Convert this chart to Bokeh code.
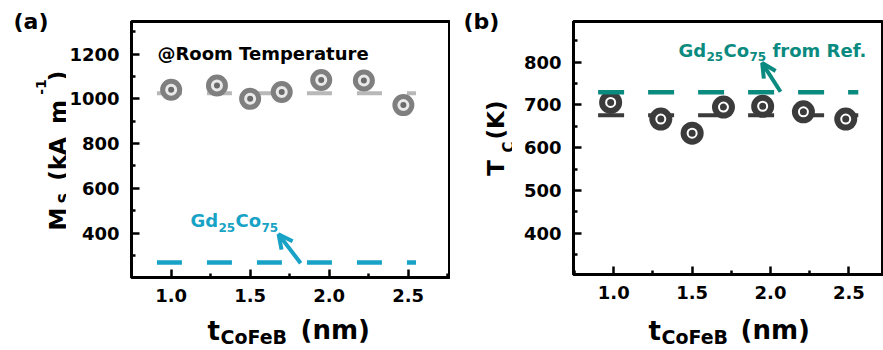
from bokeh.plotting import figure
from bokeh.layouts import row, column
from bokeh.models import Label, Arrow, OpenHead, FixedTicker, PrintfTickFormatter, Range1d
from bokeh.embed import file_html
from bokeh.resources import INLINE

# ---------------- data ----------------
# panel (a): saturation magnetisation vs CoFeB thickness
t_a = [1.00, 1.29, 1.50, 1.70, 1.95, 2.22, 2.47]
Ms = [1041, 1060, 1000, 1031, 1084, 1082, 972]
Ms_avg = 1025
Ms_GdCo = 268
line_x_a = [0.91, 2.55]

# panel (b): Curie temperature vs CoFeB thickness
t_b = [0.98, 1.30, 1.50, 1.70, 1.95, 2.21, 2.48]
Tc = [706, 667, 634, 695, 697, 684, 667]
Tc_avg = 676
Tc_GdCo = 730
line_x_b = [0.90, 2.56]

# ticks
x_ticks = [1.0, 1.5, 2.0, 2.5]
x_minor = [0.75, 1.25, 1.75, 2.25, 2.75]
ms_ticks = [400, 600, 800, 1000, 1200]
ms_minor = [300, 500, 700, 900, 1100, 1300]
tc_ticks = [400, 500, 600, 700, 800]
tc_minor = [350, 450, 550, 650, 750, 850]

FONT = "DejaVu Sans"
CYAN = "#18a3c6"
TEAL = "#0b8a80"
LGRAY = "#b8b8b8"
RING = "#7f7f7f"
DARK = "#3b3b3b"
ROT = 1.5707963
H_TOP = 312          # height of the row holding the two panels
W_A, W_B = 66, 62    # widths of the left-hand title strips
SX_FRAME_H = 50      # a short strip's frame is laid out at least this tall


def no_align(p):
    if "frame_align" in p.properties():
        p.frame_align = False


def style(p, xt, xm, yt, ym):
    no_align(p)
    p.xgrid.visible = False
    p.ygrid.visible = False
    p.outline_line_color = "black"
    p.outline_line_width = 3
    p.background_fill_color = "white"
    p.border_fill_color = "white"
    for ax in (p.xaxis[0], p.yaxis[0]):
        ax.axis_line_width = 3
        ax.axis_line_color = "black"
        ax.major_tick_line_width = 2.5
        ax.minor_tick_line_width = 2.5
        ax.major_tick_in = 8
        ax.major_tick_out = 0
        ax.minor_tick_in = 4
        ax.minor_tick_out = 0
        ax.major_label_text_font = FONT
        ax.major_label_text_font_style = "bold"
        ax.major_label_text_font_size = "18px"
        ax.major_label_text_color = "black"
    p.xaxis[0].ticker = FixedTicker(ticks=xt, minor_ticks=xm)
    p.yaxis[0].ticker = FixedTicker(ticks=yt, minor_ticks=ym)
    p.xaxis[0].formatter = PrintfTickFormatter(format="%.1f")
    p.yaxis[0].formatter = PrintfTickFormatter(format="%d")
    p.xaxis[0].major_label_standoff = 11
    p.yaxis[0].major_label_standoff = 12


def make_label(x, y, text, size, color, align, baseline, angle):
    return Label(x=x, y=y, text=text, text_font=FONT, text_font_style="bold",
                 text_font_size=f"{size}px", text_color=color,
                 text_align=align, text_baseline=baseline, angle=angle)


class Box:
    """Converts page pixel positions into the data space of a plot frame."""

    def __init__(self, p, xr, yr, L, R, T, B):
        self.p, self.xr, self.yr = p, xr, yr
        self.L, self.R, self.T, self.B = L, R, T, B

    def lab(self, X, Y, text, size, color="black", align="left",
            baseline="alphabetic", angle=0.0):
        x = self.xr[0] + (X - self.L) * (self.xr[1] - self.xr[0]) / (self.R - self.L)
        y = self.yr[0] + (self.B - Y) * (self.yr[1] - self.yr[0]) / (self.B - self.T)
        self.p.add_layout(make_label(x, y, text, size, color, align, baseline, angle))


def strip(w, h, ox, oy, frame_h=None):
    """A blank figure whose frame is its whole area, in page-pixel units."""
    fh = frame_h if frame_h is not None else h
    s = figure(width=w, height=h, x_range=Range1d(ox, ox + w),
               y_range=Range1d(oy + fh, oy), output_backend="svg",
               toolbar_location=None, x_axis_location=None,
               y_axis_location=None, min_border=0)
    no_align(s)
    s.min_border_left = s.min_border_right = 0
    s.min_border_top = s.min_border_bottom = 0
    s.xgrid.visible = False
    s.ygrid.visible = False
    s.outline_line_color = None
    s.background_fill_color = "white"
    s.border_fill_color = "white"
    return Box(s, (ox, ox + w), (oy + fh, oy), ox, ox + w, oy, oy + fh)


# ---------------- panel (a) ----------------
XR_A, YR_A = (0.749, 2.762), (201, 1346)
LA, RA, TA, BA = 131, 449, 21, 277          # frame edges on the page
pa = figure(width=450 - W_A, height=H_TOP, x_range=Range1d(*XR_A),
            y_range=Range1d(*YR_A), output_backend="svg",
            toolbar_location=None, min_border_left=LA - W_A,
            min_border_right=450 - RA, min_border_top=TA,
            min_border_bottom=H_TOP - BA)
style(pa, x_ticks, x_minor, ms_ticks, ms_minor)

pa.line(line_x_a, [Ms_avg, Ms_avg], line_width=4, line_color=LGRAY,
        line_dash="25 25")
pa.line(line_x_a, [Ms_GdCo, Ms_GdCo], line_width=4.5, line_color=CYAN,
        line_dash="25 25")
pa.scatter(t_a, Ms, size=17, fill_color="#e9e9e9", line_color=RING,
           line_width=5)
pa.scatter(t_a, Ms, size=6, fill_color="#6a6a6a", line_color=None)
pa.add_layout(Arrow(end=OpenHead(size=14, line_width=4, line_color=CYAN),
                    x_start=1.82, y_start=265, x_end=1.68, y_end=394,
                    line_width=4, line_color=CYAN))

A = Box(pa, XR_A, YR_A, LA, RA, TA, BA)
A.lab(157, 53, "@Room Temperature", 18)
A.lab(190, 220, "Gd", 18, CYAN)
A.lab(218, 227, "25", 12, CYAN)
A.lab(235, 220, "Co", 18, CYAN)
A.lab(261, 227, "75", 12, CYAN)

# left strip of (a): panel tag and y-axis title
SA = strip(W_A, H_TOP, 0, 0)
SA.lab(13, 21, "(a)", 22)
SA.lab(57, 218.5, "M", 23, align="center", angle=ROT)
SA.lab(64, 197.5, "S", 15, align="center", angle=ROT)
SA.lab(57, 158.5, "(kA", 23, align="center", angle=ROT)
SA.lab(57, 111.5, "m", 23, align="center", angle=ROT)
SA.lab(40, 86.5, "-1", 14, align="center", angle=ROT)
SA.lab(57, 75.5, ")", 23, align="center", angle=ROT)

# ---------------- panel (b) ----------------
XR_B, YR_B = (0.743, 2.721), (304, 895)
LB, RB, TB, BB = 573, 883, 21, 274
OXB = 450 + W_B
pb = figure(width=883 - OXB, height=H_TOP, x_range=Range1d(*XR_B),
            y_range=Range1d(*YR_B), output_backend="svg",
            toolbar_location=None, min_border_left=LB - OXB,
            min_border_right=0, min_border_top=TB,
            min_border_bottom=H_TOP - BB)
style(pb, x_ticks, x_minor, tc_ticks, tc_minor)

pb.line(line_x_b, [Tc_avg, Tc_avg], line_width=4, line_color=DARK,
        line_dash="26 24")
pb.scatter(t_b, Tc, size=23, fill_color=DARK, line_color=None)
pb.scatter(t_b, Tc, size=9, fill_color=None, line_color="white",
           line_width=2)
pb.line(line_x_b, [Tc_GdCo, Tc_GdCo], line_width=4.5, line_color=TEAL,
        line_dash="26 24")
pb.add_layout(Arrow(end=OpenHead(size=14, line_width=4, line_color=TEAL),
                    x_start=2.064, y_start=731, x_end=1.947, y_end=798,
                    line_width=4, line_color=TEAL))

B = Box(pb, XR_B, YR_B, LB, RB, TB, BB)
B.lab(678, 50, "Gd", 18, TEAL)
B.lab(706, 56, "25", 12, TEAL)
B.lab(723, 50, "Co", 18, TEAL)
B.lab(749, 56, "75", 12, TEAL)
B.lab(772, 50, "from Ref.", 18, TEAL)

# left strip of (b)
SB = strip(W_B, H_TOP, 450, 0)
SB.lab(463, 21, "(b)", 22)
SB.lab(495, 167.5, "T", 23, align="center", angle=ROT)
SB.lab(508, 146.5, "C", 15, align="center", angle=ROT)
SB.lab(495, 119.5, "(K)", 23, align="center", angle=ROT)

# ---------------- bottom strip: x-axis titles ----------------
SX = strip(883, 350 - H_TOP, 0, H_TOP, frame_h=SX_FRAME_H)
SX.lab(207, 336, "t", 26)
SX.lab(220, 344, "CoFeB", 19)
SX.lab(300, 335, "(nm)", 26)
SX.lab(648, 336, "t", 26)
SX.lab(661, 344, "CoFeB", 19)
SX.lab(740, 335, "(nm)", 26)

layout = column(row(SA.p, pa, SB.p, pb, spacing=0), SX.p, spacing=0)
open("out.html", "w").write(file_html(layout, INLINE))
